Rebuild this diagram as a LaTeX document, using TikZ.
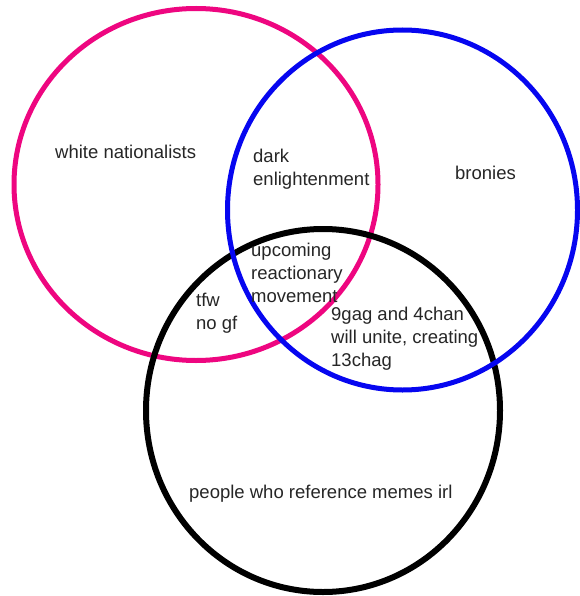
\documentclass[tikz,border=0pt]{standalone}
\usepackage{fontspec}
\setmainfont{Liberation Sans}
\definecolor{vpink}{RGB}{238,6,128}
\definecolor{vblue}{RGB}{6,6,240}
\begin{document}
\begin{tikzpicture}[x=1pt,y=-1pt,
  ring/.style={line width=5pt},
  lbl/.style={inner sep=0pt, align=left, font=\fontsize{18.5}{23}\selectfont, text=black!85}]
\useasboundingbox[fill=white] (0,0) rectangle (579,596);
\draw[ring, vpink] (196,184.5) ellipse [x radius=182, y radius=176];
\draw[ring, black, line width=6pt] (323,410.5) ellipse [x radius=177, y radius=181.5];
\draw[ring, vblue] (402.5,210) ellipse [x radius=175, y radius=180];
\node[lbl, anchor=base west] (wn) at (55,158.5) {white nationalists};
\node[lbl, anchor=west] (de) at (253,169) {dark\\enlightenment};
\node[lbl, anchor=base west] (br) at (455,179) {bronies};
\node[lbl, anchor=west] (urm) at (251,273) {upcoming\\reactionary\\movement};
\node[lbl, anchor=west] (tfw) at (196,313.5) {tfw\\no gf};
\node[lbl, anchor=west] (gag) at (331,339) {9gag and 4chan\\will unite, creating\\13chag};
\node[lbl, anchor=base west] (ppl) at (189,498.5) {people who reference memes irl};
\end{tikzpicture}
\end{document}
